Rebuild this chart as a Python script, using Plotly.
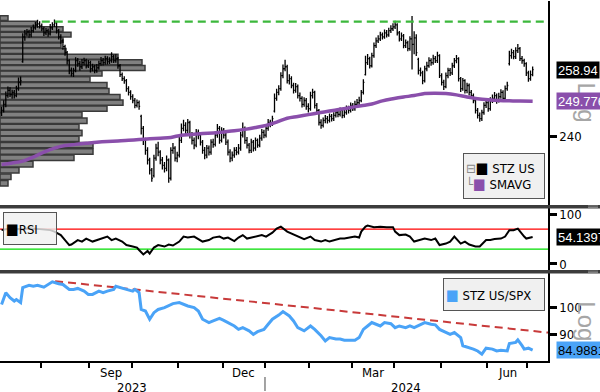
import math
import plotly.graph_objects as go

W, H = 600, 392
PLOT_W = 548
FONT = "DejaVu Sans Condensed, DejaVu Sans, Liberation Sans, sans-serif"

# ---------------- data ----------------
# daily bars, trading-day index 0 = 5 Jul 2023 ... 251 = 3 Jul 2024
opens = [
    246.5, 247.2, 248.9, 251.4, 252.9, 251.7, 252.3, 251.4, 253.4, 255.2,
    261.3, 268.8, 269.7, 270.3, 269.4, 270.7, 271.6, 272.5, 272.8, 272.2,
    271.3, 270.0, 270.7, 269.7, 271.6, 272.5, 273.1, 270.7, 268.8, 267.6,
    265.8, 264.0, 261.6, 258.7, 257.8, 258.7, 261.6, 260.7, 259.8, 261.0,
    261.6, 260.1, 261.0, 259.2, 259.8, 258.7, 259.5, 260.7, 261.6, 261.0,
    262.2, 261.3, 261.6, 262.8, 261.6, 262.2, 260.1, 257.5, 256.3, 255.7,
    253.4, 252.3, 251.1, 250.0, 248.6, 249.4, 245.5, 242.2, 238.9, 236.2,
    233.6, 230.9, 229.5, 234.1, 236.8, 235.7, 233.6, 232.2, 231.4, 233.6,
    228.8, 236.2, 236.8, 234.1, 234.9, 238.9, 242.2, 243.0, 241.6, 243.8,
    240.3, 238.9, 237.6, 241.1, 240.3, 238.4, 236.2, 234.9, 236.8, 235.7,
    238.4, 237.8, 240.3, 242.2, 238.9, 241.6, 240.3, 238.4, 235.7, 234.1,
    234.9, 236.2, 235.7, 236.8, 240.3, 242.2, 238.9, 237.6, 236.2, 238.4,
    236.8, 238.9, 237.6, 239.5, 241.1, 240.3, 242.2, 243.8, 243.3, 247.0,
    250.6, 252.3, 253.4, 257.2, 259.2, 259.8, 255.7, 256.3, 254.3, 252.9,
    254.0, 251.4, 250.6, 248.9, 250.0, 248.3, 247.7, 251.4, 252.3, 248.6,
    247.2, 243.8, 243.0, 244.4, 244.9, 244.4, 245.5, 244.9, 245.8, 246.6,
    246.1, 247.2, 245.8, 246.6, 247.7, 247.2, 248.6, 247.7, 248.9, 249.4,
    250.0, 252.3, 257.5, 261.0, 262.2, 260.1, 263.1, 266.1, 267.6, 268.2,
    269.4, 268.8, 270.0, 269.4, 270.7, 271.3, 271.9, 272.5, 270.0, 268.2,
    269.1, 266.1, 267.0, 265.2, 268.2, 266.5, 268.5, 262.0, 258.7, 258.0,
    255.7, 259.2, 260.1, 261.6, 261.0, 262.2, 261.6, 263.1, 257.2, 255.2,
    254.0, 257.2, 258.7, 258.0, 260.1, 261.6, 262.2, 256.3, 253.4, 255.7,
    252.9, 254.3, 252.3, 251.4, 250.0, 247.2, 245.8, 244.9, 246.6, 248.6,
    249.4, 247.7, 250.0, 250.6, 251.4, 250.0, 251.1, 252.3, 250.6, 253.4,
    260.7, 263.1, 264.0, 262.8, 264.6, 265.2, 262.2, 261.6, 260.7, 258.0,
    256.3, 257.5,
]
highs = [
    248.2, 250.1, 252.6, 254.0, 253.8, 253.1, 253.0, 254.2, 256.6, 256.9,
    269.9, 270.9, 271.2, 271.0, 271.8, 272.6, 273.4, 274.1, 273.6, 272.9,
    271.9, 271.5, 271.4, 272.8, 273.3, 274.2, 273.6, 271.2, 269.6, 268.1,
    266.4, 264.5, 262.0, 259.6, 259.5, 262.6, 262.4, 261.5, 262.1, 262.5,
    262.2, 261.8, 261.6, 260.7, 260.4, 260.6, 261.6, 262.7, 262.4, 263.1,
    262.9, 262.6, 264.1, 263.4, 263.5, 262.7, 260.6, 258.1, 257.0, 256.2,
    254.1, 252.9, 251.8, 250.7, 250.3, 250.0, 246.0, 242.8, 239.6, 237.0,
    234.2, 231.5, 235.0, 238.0, 238.5, 236.2, 234.4, 233.1, 234.8, 234.0,
    237.0, 238.2, 237.3, 235.8, 239.8, 243.5, 244.6, 243.9, 244.8, 244.3,
    241.2, 239.7, 242.0, 241.9, 240.9, 239.0, 237.1, 237.6, 237.5, 239.2,
    239.3, 241.3, 243.4, 242.8, 242.5, 242.3, 241.0, 239.1, 236.5, 235.9,
    237.0, 237.1, 237.9, 241.2, 243.8, 242.7, 239.8, 238.2, 239.3, 239.0,
    239.7, 239.4, 240.4, 242.0, 241.8, 243.0, 244.8, 244.6, 245.7, 252.0,
    253.4, 254.4, 258.2, 260.5, 261.9, 260.4, 257.6, 257.0, 255.1, 255.0,
    254.6, 252.3, 251.2, 250.9, 250.7, 249.2, 252.5, 253.4, 252.8, 249.3,
    247.6, 244.7, 245.2, 245.9, 245.6, 246.3, 246.2, 246.7, 247.6, 247.3,
    248.0, 247.9, 247.5, 248.6, 248.5, 249.4, 249.3, 249.9, 250.4, 251.1,
    253.0, 256.1, 263.1, 263.6, 262.8, 264.0, 267.1, 268.6, 269.3, 270.4,
    270.1, 271.1, 270.9, 271.6, 272.4, 273.0, 273.8, 273.0, 270.6, 270.1,
    269.7, 268.0, 267.6, 269.0, 275.3, 270.5, 269.6, 262.5, 259.6, 258.6,
    260.1, 261.3, 262.6, 262.3, 263.4, 263.0, 264.3, 263.5, 257.9, 256.0,
    258.1, 259.5, 259.4, 261.0, 262.4, 263.3, 262.6, 256.8, 256.5, 256.1,
    255.1, 254.9, 253.0, 252.0, 250.4, 247.9, 246.6, 247.4, 249.5, 250.4,
    250.0, 250.9, 251.7, 252.4, 252.0, 252.2, 253.2, 252.9, 254.3, 255.4,
    264.6, 265.2, 264.8, 265.6, 266.6, 265.7, 263.0, 262.2, 261.1, 258.6,
    258.7, 259.9,
]
lows = [
    245.6, 246.6, 248.1, 250.8, 251.0, 250.5, 250.6, 250.9, 252.8, 254.3,
    261.0, 267.6, 268.9, 268.5, 268.7, 270.1, 271.0, 271.6, 271.4, 270.5,
    269.1, 269.3, 268.8, 269.2, 270.9, 271.8, 269.8, 268.0, 266.7, 264.9,
    263.1, 260.5, 257.6, 256.9, 256.8, 258.2, 259.8, 258.6, 259.1, 260.2,
    259.3, 259.4, 258.1, 258.5, 257.9, 258.0, 258.9, 260.1, 260.2, 260.4,
    260.5, 260.6, 261.0, 260.9, 261.0, 259.2, 256.8, 255.6, 254.8, 252.5,
    251.4, 250.2, 249.2, 247.8, 248.0, 247.4, 240.5, 237.6, 235.0, 232.4,
    229.8, 227.9, 229.0, 233.4, 234.6, 232.5, 231.1, 230.3, 230.6, 227.6,
    228.2, 235.3, 233.2, 233.0, 234.3, 238.2, 241.4, 240.6, 240.9, 239.4,
    237.8, 236.5, 237.0, 239.2, 237.5, 235.3, 233.8, 234.1, 234.8, 235.0,
    236.9, 237.2, 239.6, 238.0, 238.3, 239.4, 237.6, 234.8, 233.0, 233.3,
    234.2, 234.9, 235.1, 236.1, 239.7, 238.0, 236.7, 235.4, 235.5, 235.9,
    236.1, 236.9, 237.0, 238.8, 239.5, 239.7, 241.5, 242.5, 242.8, 246.6,
    249.9, 251.5, 252.8, 256.4, 258.5, 254.9, 254.6, 253.5, 252.0, 252.2,
    250.6, 249.7, 248.0, 248.2, 247.4, 246.6, 247.1, 250.6, 247.7, 246.2,
    243.0, 242.1, 242.4, 243.6, 243.5, 243.8, 244.1, 244.2, 245.2, 245.3,
    245.5, 245.0, 245.1, 246.0, 246.3, 246.6, 247.0, 247.1, 248.2, 248.7,
    249.5, 251.7, 257.2, 260.3, 259.3, 259.6, 262.5, 265.4, 266.9, 267.5,
    268.0, 268.2, 268.6, 268.8, 270.0, 270.6, 271.2, 269.2, 267.4, 267.5,
    265.3, 265.4, 264.4, 264.6, 259.0, 263.5, 263.0, 257.5, 257.0, 254.7,
    255.2, 258.5, 259.5, 260.1, 260.4, 260.9, 260.9, 256.5, 254.3, 253.0,
    253.5, 256.4, 257.1, 257.4, 259.4, 260.8, 255.5, 252.4, 252.8, 252.0,
    252.1, 251.4, 250.5, 249.2, 246.3, 244.9, 244.0, 244.2, 246.0, 247.9,
    246.8, 247.1, 249.3, 249.8, 249.1, 249.4, 250.5, 249.7, 250.0, 252.8,
    260.2, 262.2, 262.0, 262.1, 263.9, 261.5, 260.7, 259.8, 257.1, 255.4,
    255.7, 257.0,
]
closes = [
    247.2, 248.9, 251.4, 252.9, 251.7, 252.3, 251.4, 253.4, 255.2, 255.7,
    268.8, 269.7, 270.3, 269.4, 270.7, 271.6, 272.5, 272.8, 272.2, 271.3,
    270.0, 270.7, 269.7, 271.6, 272.5, 273.1, 270.7, 268.8, 267.6, 265.8,
    264.0, 261.6, 258.7, 257.8, 258.7, 261.6, 260.7, 259.8, 261.0, 261.6,
    260.1, 261.0, 259.2, 259.8, 258.7, 259.5, 260.7, 261.6, 261.0, 262.2,
    261.3, 261.6, 262.8, 261.6, 262.2, 260.1, 257.5, 256.3, 255.7, 253.4,
    252.3, 251.1, 250.0, 248.6, 249.4, 248.3, 242.2, 238.9, 236.2, 233.6,
    230.9, 228.8, 234.1, 236.8, 235.7, 233.6, 232.2, 231.4, 233.6, 228.8,
    236.2, 236.8, 234.1, 234.9, 238.9, 242.2, 243.0, 241.6, 243.8, 240.3,
    238.9, 237.6, 241.1, 240.3, 238.4, 236.2, 234.9, 236.8, 235.7, 238.4,
    237.8, 240.3, 242.2, 238.9, 241.6, 240.3, 238.4, 235.7, 234.1, 234.9,
    236.2, 235.7, 236.8, 240.3, 242.2, 238.9, 237.6, 236.2, 238.4, 236.8,
    238.9, 237.6, 239.5, 241.1, 240.3, 242.2, 243.8, 243.3, 244.9, 250.6,
    252.3, 253.4, 257.2, 259.2, 259.8, 255.7, 256.3, 254.3, 252.9, 254.0,
    251.4, 250.6, 248.9, 250.0, 248.3, 247.7, 251.4, 252.3, 248.6, 247.2,
    243.8, 243.0, 244.4, 244.9, 244.4, 245.5, 244.9, 245.8, 246.6, 246.1,
    247.2, 245.8, 246.6, 247.7, 247.2, 248.6, 247.7, 248.9, 249.4, 250.0,
    252.3, 255.2, 261.0, 262.2, 260.1, 263.1, 266.1, 267.6, 268.2, 269.4,
    268.8, 270.0, 269.4, 270.7, 271.3, 271.9, 272.5, 270.0, 268.2, 269.1,
    266.1, 267.0, 265.2, 268.2, 266.5, 268.5, 264.0, 258.7, 258.0, 255.7,
    259.2, 260.1, 261.6, 261.0, 262.2, 261.6, 263.1, 257.2, 255.2, 254.0,
    257.2, 258.7, 258.0, 260.1, 261.6, 262.2, 256.3, 253.4, 255.7, 252.9,
    254.3, 252.3, 251.4, 250.0, 247.2, 245.8, 244.9, 246.6, 248.6, 249.4,
    247.7, 250.0, 250.6, 251.4, 250.0, 251.1, 252.3, 250.6, 253.4, 254.3,
    263.1, 264.0, 262.8, 264.6, 265.2, 262.2, 261.6, 260.7, 258.0, 256.3,
    257.5, 258.94,
]

# SMAVG (sampled)
sma_idx = [0, 5, 10, 15, 20, 25, 30, 35, 40, 45, 50, 55, 60, 65, 70, 75, 80, 85, 90, 95,
           100, 105, 110, 115, 120, 125, 130, 135, 140, 145, 150, 155, 160, 165, 170, 175,
           180, 185, 190, 195, 200, 205, 210, 215, 220, 225, 230, 235, 240, 245, 251]
sma_val = [232.4, 232.8, 233.3, 234.4, 235.7, 236.8, 237.5, 237.8, 238.1, 238.4, 238.6, 238.7,
           238.9, 239.1, 239.3, 239.5, 239.7, 240.3, 240.5, 240.8, 240.9, 241.2, 241.5, 241.9,
           242.4, 243.0, 243.9, 245.0, 245.5, 246.0, 246.5, 247.0, 247.5, 248.0, 248.5, 249.0,
           249.9, 250.5, 251.0, 251.4, 252.0, 252.1, 252.0, 251.6, 251.0, 250.5, 250.2, 250.0,
           249.9, 249.85, 249.776]

# 52-week high reference line
high_line_start = 19
high_line_val = 273.5

# volume profile (price bins, relative volume)
vp_bin = 1.682
vp_price = [227.5, 229.2, 230.9, 232.5, 234.2, 235.9, 237.6, 239.3, 240.9, 242.6, 244.3,
            246.0, 247.7, 249.4, 251.0, 252.7, 254.4, 256.1, 257.8, 259.4, 261.1, 262.8,
            264.5, 266.2, 267.9, 269.5, 271.2, 272.9, 274.6]
vp_volume = [0.8, 1.1, 1.9, 3.3, 7.4, 9.3, 9.3, 7.9, 8.2, 7.9, 8.7, 8.2, 10.7, 12.3, 12.0,
             10.9, 10.7, 9.0, 10.2, 14.5, 14.2, 11.8, 6.6, 6.1, 6.3, 7.1, 6.3, 3.7, 0.8]

# RSI
rsi_idx = [0, 4, 9, 13, 18, 23, 25, 28, 30, 32, 33, 36, 38, 40, 43, 45, 47, 50, 52, 54, 57, 59,
           62, 64, 65, 67, 69, 70, 72, 74, 77, 79, 81, 84, 86, 88, 91, 93, 95, 98, 100, 103,
           105, 107, 110, 112, 114, 116, 118, 121, 123, 125, 128, 130, 132, 135, 137, 140,
           143, 146, 148, 151, 153, 155, 158, 160, 162, 165, 167, 169, 170, 172, 173, 176,
           179, 182, 185, 186, 188, 191, 193, 195, 198, 200, 203, 205, 207, 210, 212, 214,
           217, 219, 221, 224, 226, 229, 231, 233, 236, 238, 240, 242, 244, 245, 247, 248, 251]
rsi_val = [68, 71, 70, 72, 70, 68, 65, 58, 48, 38, 39, 48, 45, 51, 45, 48, 50, 55, 48, 51, 45, 38,
           35, 33, 28, 19, 26, 21, 33, 38, 35, 39, 37, 45, 55, 53, 55, 50, 45, 48, 53, 55,
           51, 53, 46, 53, 58, 51, 53, 55, 58, 55, 63, 71, 75, 65, 61, 55,
           50, 55, 48, 45, 48, 45, 48, 51, 51, 53, 55, 53, 65, 75, 77, 74,
           75, 74, 74, 65, 58, 59, 55, 45, 48, 51, 48, 51, 38, 41, 45, 55,
           41, 45, 39, 35, 35, 48, 48, 50, 51, 55, 68, 68, 71, 65, 55, 51, 54.1397]
rsi_upper = 70
rsi_lower = 30

# STZ US / SPX relative
rel_idx = [0, 1, 2, 4, 6, 7, 9, 10, 13, 15, 17, 20, 22, 24, 27, 29, 32, 34, 36, 39, 41, 43, 46,
           48, 50, 53, 54, 57, 59, 62, 63, 65, 66, 68, 70, 72, 74, 77, 79, 81, 84, 86, 88, 91,
           93, 95, 98, 100, 103, 105, 107, 110, 112, 114, 117, 119, 121, 124, 126, 128, 131,
           133, 136, 138, 140, 143, 146, 148, 151, 153, 155, 158, 160, 162, 165, 167, 169,
           171, 173, 175, 177, 179, 181, 184, 186, 188, 191, 193, 195, 198, 200, 203, 205,
           207, 210, 212, 214, 217, 218, 221, 223, 225, 227, 229, 232, 234, 236, 239, 240,
           243, 244, 246, 247, 249, 251]
rel_val = [101.0, 103.6, 105.6, 103.6, 102.3, 102.9, 101.7, 107.6, 108.6, 108.2, 108.6, 107.8,
           108.9, 110.0, 109.2, 108.9, 106.9, 106.9, 107.3, 106.2, 104.9, 104.9, 106.2,
           105.6, 106.2, 106.9, 108.2, 107.6, 106.9, 106.2, 106.9, 105.6, 99.1, 98.5, 95.5,
           97.9, 99.1, 99.8, 100.4, 101.3, 101.7, 101.0, 100.4, 99.8,
           98.5, 95.5, 94.3, 94.9, 95.8, 95.1, 94.3, 93.1, 91.9, 92.5, 91.4, 90.2, 91.1, 91.9,
           93.7, 95.5, 97.0, 98.3, 96.7, 94.9, 92.5, 91.4, 93.1, 91.9, 89.7, 88.0, 89.1, 88.6,
           88.6, 88.2, 88.2, 88.2, 89.1, 91.9, 93.1, 94.3, 93.7, 93.1, 94.3, 93.9, 92.5, 93.1,
           92.5, 93.1, 92.5, 93.7, 94.3, 93.7, 93.5, 91.9, 90.8, 90.2, 90.8, 89.1, 86.4, 85.8,
           85.3, 84.7, 83.7, 85.6, 85.3, 84.7, 84.9, 84.7, 87.1, 87.5, 88.3, 86.4, 85.3, 85.6,
           84.9881]

# descending trend line on the relative panel
trend_idx = [25.3, 258.3]
trend_val = [110.3, 90.8]

# axis tick data
month_start_idx = [19, 42, 62, 84, 105, 125, 146, 166, 186, 208, 230, 249]
month_labels = ["", "Sep", "", "", "Dec", "", "", "Mar", "", "", "Jun", ""]
year_labels = ["2023", "2024"]
year_start_month = 5  # month_start_idx position where 2024 begins
price_ticks = [240]
rsi_ticks = [0, 100]
rel_ticks = [90, 100]

# ---------------- figure ----------------
days = list(range(len(closes)))
x_lo, x_hi = -0.74, 258.26
px_per_day = PLOT_W / (x_hi - x_lo)
XD = [0, PLOT_W / W]


def py(px):
    return 1 - px / H


top_dom = [py(205), 1.0]
rsi_dom = [py(270.5), py(208)]
rel_dom = [py(362), py(273.5)]

price_rng = [221.94, 280.01]
rsi_rng = [-12.4, 112.6]
rel_rng = [81.5, 113.7]

PURPLE = "#8a4fab"
BLUE = "#4aa3f7"

fig = go.Figure()

# volume profile on base axes (log10 price mapped linearly)
frac = 0.88
vp_lo = [p - vp_bin * frac / 2 for p in vp_price]
vp_hi = [p + vp_bin * frac / 2 for p in vp_price]
vp_y = [(math.log10(a) + math.log10(b)) / 2 for a, b in zip(vp_lo, vp_hi)]
vp_w = [math.log10(b) - math.log10(a) for a, b in zip(vp_lo, vp_hi)]
fig.add_trace(go.Bar(x=vp_volume, y=vp_y, width=vp_w, orientation="h", xaxis="x", yaxis="y",
                     marker=dict(color="#808080", line=dict(color="#3a3a3a", width=1.5)),
                     showlegend=False, hoverinfo="skip"))

# price
fig.add_trace(go.Ohlc(x=days, open=opens, high=highs, low=lows, close=closes,
                      xaxis="x2", yaxis="y2", tickwidth=0.5,
                      increasing=dict(line=dict(color="black", width=1.3)),
                      decreasing=dict(line=dict(color="black", width=1.3)),
                      showlegend=False, hoverinfo="skip"))
fig.add_trace(go.Scatter(x=[high_line_start, x_hi], y=[high_line_val, high_line_val],
                         mode="lines", xaxis="x2", yaxis="y2",
                         line=dict(color="#3cb83c", width=2.2, dash="8px,5px"),
                         showlegend=False, hoverinfo="skip"))
fig.add_trace(go.Scatter(x=sma_idx, y=sma_val, mode="lines", xaxis="x2", yaxis="y2",
                         line=dict(color=PURPLE, width=3.5, shape="spline"),
                         showlegend=False, hoverinfo="skip"))

tag_x = x_hi + 6.5 / px_per_day
fig.add_trace(go.Scatter(x=[tag_x, tag_x], y=[closes[-1], sma_val[-1]], mode="markers",
                         xaxis="x2", yaxis="y2", cliponaxis=False,
                         marker=dict(symbol="triangle-left", size=12, color=["black", PURPLE]),
                         showlegend=False, hoverinfo="skip"))

# RSI
for lvl, col in ((rsi_upper, "#ff0000"), (rsi_lower, "#00dd00")):
    fig.add_trace(go.Scatter(x=[x_lo, x_hi], y=[lvl, lvl], mode="lines", xaxis="x3", yaxis="y3",
                             line=dict(color=col, width=1.3), showlegend=False, hoverinfo="skip"))
fig.add_trace(go.Scatter(x=rsi_idx, y=rsi_val, mode="lines", xaxis="x3", yaxis="y3",
                         line=dict(color="black", width=2), showlegend=False, hoverinfo="skip"))
fig.add_trace(go.Scatter(x=[tag_x], y=[rsi_val[-1]], mode="markers", xaxis="x3", yaxis="y3",
                         cliponaxis=False,
                         marker=dict(symbol="triangle-left", size=12, color="black"),
                         showlegend=False, hoverinfo="skip"))

# relative performance
fig.add_trace(go.Scatter(x=trend_idx, y=trend_val, mode="lines", xaxis="x4", yaxis="y4",
                         line=dict(color="#c83a3a", width=2, dash="8px,5px"),
                         showlegend=False, hoverinfo="skip"))
fig.add_trace(go.Scatter(x=rel_idx, y=rel_val, mode="lines", xaxis="x4", yaxis="y4",
                         line=dict(color=BLUE, width=3), showlegend=False, hoverinfo="skip"))
fig.add_trace(go.Scatter(x=[tag_x], y=[rel_val[-1]], mode="markers", xaxis="x4", yaxis="y4",
                         cliponaxis=False,
                         marker=dict(symbol="triangle-left", size=12, color=BLUE),
                         showlegend=False, hoverinfo="skip"))

axis_common = dict(showgrid=False, zeroline=False)
yright = dict(side="right", showline=True, linecolor="black", linewidth=1.5, ticks="outside",
              ticklen=7, tickwidth=3, tickcolor="black", showgrid=False, zeroline=False,
              ticklabeloverflow="allow",
              tickfont=dict(family=FONT, size=13, color="#000"))

fig.update_layout(
    width=W, height=H, margin=dict(l=0, r=0, t=0, b=0),
    paper_bgcolor="white", plot_bgcolor="white", showlegend=False,
    font=dict(family=FONT, size=13, color="#000"),
    xaxis=dict(domain=XD, range=[0, PLOT_W / 10], visible=False, anchor="y", **axis_common),
    yaxis=dict(domain=top_dom, range=[math.log10(price_rng[0]), math.log10(price_rng[1])],
               visible=False, anchor="x", **axis_common),
    xaxis2=dict(overlaying="x", range=[x_lo, x_hi], visible=False, anchor="y2",
                rangeslider=dict(visible=False), **axis_common),
    yaxis2=dict(overlaying="y", type="log", anchor="x2",
                range=[math.log10(price_rng[0]), math.log10(price_rng[1])],
                tickmode="array", tickvals=price_ticks, ticktext=[str(v) for v in price_ticks],
                **yright),
    xaxis3=dict(domain=XD, range=[x_lo, x_hi], visible=False, anchor="y3",
                rangeslider=dict(visible=False), **axis_common),
    yaxis3=dict(domain=rsi_dom, range=rsi_rng, anchor="x3", tickmode="array", tickvals=rsi_ticks,
                ticktext=[str(v) for v in rsi_ticks], **yright),
    xaxis4=dict(domain=XD, range=[x_lo, x_hi], anchor="y4", showline=True, linecolor="black",
                linewidth=1.5, ticks="outside", ticklen=5, tickwidth=1.5, tickcolor="black",
                tickmode="array", tickvals=[m - 0.5 for m in month_start_idx],
                showticklabels=False, rangeslider=dict(visible=False), **axis_common),
    yaxis4=dict(domain=rel_dom, type="log", anchor="x4",
                range=[math.log10(rel_rng[0]), math.log10(rel_rng[1])],
                tickmode="array", tickvals=rel_ticks, ticktext=[str(v) for v in rel_ticks],
                **yright),
)

shapes = []
# panel separators
for top, bot in ((205, 208.5), (270.5, 274)):
    shapes.append(dict(type="rect", xref="paper", yref="paper", x0=0, x1=1, y0=py(bot), y1=py(top),
                       fillcolor="#3c3c3c", line=dict(width=0), layer="above"))
    for dy in (1.0, 2.5):
        shapes.append(dict(type="line", xref="paper", yref="paper", x0=588 / W, x1=598 / W,
                           y0=py(top + dy), y1=py(top + dy), line=dict(color="#9a9a9a", width=0.8),
                           layer="above"))
# year divider
yr_split = month_start_idx[year_start_month] - 0.5
shapes.append(dict(type="line", xref="x4", yref="paper", x0=yr_split, x1=yr_split,
                   y0=0, y1=py(378), line=dict(color="#666", width=1.2)))
fig.update_layout(shapes=shapes)

ann = []
# month labels
for i, lab in enumerate(month_labels):
    if lab:
        xm = (month_start_idx[i] + month_start_idx[i + 1]) / 2 - 0.5
        ann.append(dict(x=xm, xref="x4", xanchor="center", y=py(364), yref="paper",
                        yanchor="top", text=lab, showarrow=False, font=dict(size=13, color="#000")))
# year labels
for lab, (a, b) in zip(year_labels, ((x_lo, yr_split), (yr_split, x_hi))):
    ann.append(dict(x=(a + b) / 2, xref="x4", xanchor="center", y=py(379), yref="paper",
                    yanchor="top", text=lab, showarrow=False, font=dict(size=13, color="#000")))

# "Log" markers (under the value tags)
for yc in (102, 322):
    ann.append(dict(xref="paper", yref="paper", x=587 / W, y=py(yc), xanchor="center",
                    yanchor="middle", text="Log", textangle=90, showarrow=False,
                    font=dict(size=24, color="#a6a6a6", family="Liberation Sans, sans-serif")))

# value tags
tag_common = dict(xref="paper", x=556 / W, xanchor="left", yanchor="middle", showarrow=False,
                  borderpad=1, height=14, align="left")
TAGF = "Liberation Sans, Arial, sans-serif"
ann.append(dict(yref="y2", y=math.log10(closes[-1]), text=f"{closes[-1]:.2f}", bgcolor="black",
                font=dict(size=13, color="white", family=TAGF), **tag_common))
ann.append(dict(yref="y2", y=math.log10(sma_val[-1]), text=f"{sma_val[-1]:.3f}", bgcolor=PURPLE,
                font=dict(size=13, color="white", family=TAGF), **tag_common))
ann.append(dict(yref="y3", y=rsi_val[-1], text=f"{rsi_val[-1]:.4f}", bgcolor="black",
                font=dict(size=13, color="white", family=TAGF), **tag_common))
ann.append(dict(yref="y4", y=math.log10(rel_val[-1]), text=f"{rel_val[-1]:.4f}", bgcolor=BLUE,
                font=dict(size=13, color="black", family=TAGF), **tag_common))

# legends
leg_common = dict(xref="paper", yref="paper", xanchor="left", yanchor="top", showarrow=False,
                  align="left", bordercolor="#555", borderwidth=1, borderpad=2)
ann.append(dict(x=463 / W, y=py(153), width=76, height=40, bgcolor="#f0f0f0",
                text="<span style='color:#888'>⊟</span><span style='font-size:15px'>■</span> STZ US<br>"
                     "<span style='color:#888'>└</span><span style='color:" + PURPLE +
                     ";font-size:15px'>■</span> SMAVG",
                font=dict(size=13, color="#000"), **leg_common))
ann.append(dict(x=3 / W, y=py(212), width=48, height=27, bgcolor="rgba(240,240,240,0.8)",
                text="<span style='font-size:15px'>■</span>RSI",
                font=dict(size=13, color="#000"), **leg_common))
ann.append(dict(x=443 / W, y=py(278), width=96, height=27, bgcolor="#f0f0f0",
                text="<span style='color:" + BLUE + ";font-size:15px'>■</span> STZ US/SPX",
                font=dict(size=13, color="#000"), **leg_common))

fig.update_layout(annotations=ann)

fig.write_html("out.html", config={"displayModeBar": False},
               post_script="document.body.style.margin='0';document.body.style.padding='0';"
                           "document.documentElement.style.overflow='hidden';")
